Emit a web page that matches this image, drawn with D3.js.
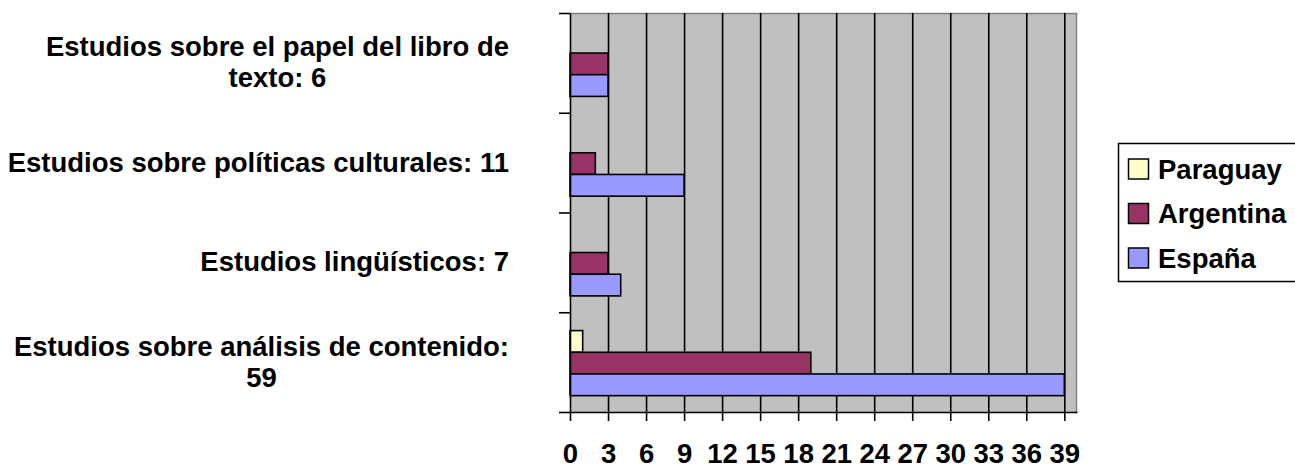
<!DOCTYPE html>
<html>
<head>
<meta charset="utf-8">
<script src="https://cdnjs.cloudflare.com/ajax/libs/d3/7.8.5/d3.min.js"></script>
<style>
  html, body { margin: 0; padding: 0; background: #fff; }
  svg text { font-family: "Liberation Sans", Arial, sans-serif; font-weight: bold; fill: #000; }
</style>
</head>
<body>
<svg id="chart" width="1295" height="473"></svg>
<script>
(function () {
  'use strict';

  // category labels, top to bottom (one entry per wrapped line)
  var categories = [
    ['Estudios sobre el papel del libro de', 'texto: 6'],
    ['Estudios sobre políticas culturales: 11'],
    ['Estudios lingüísticos: 7'],
    ['Estudios sobre análisis de contenido:', '59']
  ];
  var seriesNames = ['Paraguay', 'Argentina', 'España'];
  var paraguay = [0, 0, 0, 1];
  var argentina = [3, 2, 3, 19];
  var espana = [3, 9, 4, 39];
  var xTicks = [0, 3, 6, 9, 12, 15, 18, 21, 24, 27, 30, 33, 36, 39];
  var xMax = 40;

  var colors = ['#FFFFCC', '#993366', '#9999FF'];
  var seriesValues = [paraguay, argentina, espana];

  var svg = d3.select('#chart'),
      plot = {left: 570, right: 1077, top: 13, bottom: 412},
      fontSize = 27.5;

  var x = d3.scaleLinear()
      .domain([0, xMax])
      .range([plot.left, plot.right]);

  var catIdx = d3.range(categories.length);
  var y = d3.scaleBand()
      .domain(catIdx)
      .range([plot.top, plot.bottom])
      .padding(0);

  var ySeries = d3.scaleBand()
      .domain(d3.range(seriesNames.length))
      .range([0, y.bandwidth()])
      .paddingInner(0)
      .paddingOuter(0.8);

  // plot background
  svg.append('rect')
      .attr('x', plot.left)
      .attr('y', plot.top)
      .attr('width', plot.right - plot.left)
      .attr('height', plot.bottom - plot.top)
      .attr('fill', '#C0C0C0');

  // top + right border of plot area
  svg.append('path')
      .attr('d', 'M' + plot.left + ',' + (plot.top + 0.5) + 'H' + (plot.right - 0.5) + 'V' + plot.bottom)
      .attr('fill', 'none')
      .attr('stroke', '#808080')
      .attr('stroke-width', 1.5);

  // vertical gridlines
  var grid = svg.append('g')
      .attr('transform', 'translate(0,' + plot.bottom + ')')
      .call(d3.axisBottom(x)
        .tickValues(xTicks.slice(1))
        .tickSize(-(plot.bottom - plot.top))
        .tickSizeOuter(0)
        .tickFormat(''));
  grid.select('.domain').remove();
  grid.selectAll('line')
      .attr('stroke', '#000')
      .attr('stroke-width', 1.6);

  // bars (zero values are not drawn)
  seriesValues.forEach(function (values, s) {
    var rows = values
        .map(function (v, i) { return {value: v, cat: i}; })
        .filter(function (d) { return d.value > 0; });
    svg.append('g')
        .attr('class', 'series')
        .selectAll('rect')
        .data(rows)
        .enter()
        .append('rect')
        .attr('x', x(0))
        .attr('y', function (d) { return y(d.cat) + ySeries(s) + 1; })
        .attr('width', function (d) { return x(d.value) - x(0); })
        .attr('height', ySeries.bandwidth())
        .attr('fill', colors[s])
        .attr('stroke', '#000')
        .attr('stroke-width', 1.6);
  });

  // x axis
  var xAxis = svg.append('g')
      .attr('transform', 'translate(0,' + plot.bottom + ')')
      .call(d3.axisBottom(x)
        .tickValues(xTicks)
        .tickSize(9)
        .tickSizeOuter(0));
  xAxis.select('.domain')
      .attr('stroke', '#000')
      .attr('stroke-width', 1.6);
  xAxis.selectAll('line')
      .attr('stroke', '#000')
      .attr('stroke-width', 1.6);
  xAxis.selectAll('text')
      .attr('y', 51)
      .attr('dy', null)
      .style('font-size', fontSize + 'px');

  // y axis, ticks sit on the category boundaries
  var yEdges = d3.scaleLinear()
      .domain([0, categories.length])
      .range([plot.top, plot.bottom]);
  var yAxis = svg.append('g')
      .attr('transform', 'translate(' + plot.left + ',0)')
      .call(d3.axisLeft(yEdges)
        .ticks(categories.length)
        .tickSize(11)
        .tickSizeOuter(0)
        .tickFormat(''));
  yAxis.select('.domain')
      .attr('stroke', '#000')
      .attr('stroke-width', 1.6);
  yAxis.selectAll('line')
      .attr('stroke', '#000')
      .attr('stroke-width', 1.6);

  // category labels
  var labelRight = 509,
      lineHeight = 31;
  categories.forEach(function (lines, i) {
    var t = svg.append('text')
        .attr('text-anchor', 'middle')
        .style('font-size', fontSize + 'px');
    var cy = y(i) + y.bandwidth() / 2 - 1;
    var firstBase = cy - (lines.length - 1) * lineHeight / 2 + fontSize * 0.36;
    lines.forEach(function (line, k) {
      t.append('tspan')
          .attr('y', firstBase + k * lineHeight)
          .text(line);
    });
    var maxW = 0;
    t.selectAll('tspan').each(function () {
      maxW = Math.max(maxW, this.getComputedTextLength());
    });
    t.selectAll('tspan').attr('x', labelRight - maxW / 2);
  });

  // legend
  var legend = svg.append('g')
      .attr('class', 'legend');
  legend.append('rect')
      .attr('x', 1118.5)
      .attr('y', 143.5)
      .attr('width', 200)
      .attr('height', 138)
      .attr('fill', '#fff')
      .attr('stroke', '#000')
      .attr('stroke-width', 1.5);

  var items = legend.selectAll('g.item')
      .data(seriesNames)
      .enter()
      .append('g')
      .attr('class', 'item')
      .attr('transform', function (d, i) { return 'translate(1128,' + (169 + i * 44.5) + ')'; });
  items.append('rect')
      .attr('x', 0.5)
      .attr('y', -10)
      .attr('width', 20)
      .attr('height', 20)
      .attr('fill', function (d, i) { return colors[i]; })
      .attr('stroke', '#000')
      .attr('stroke-width', 1.5);
  items.append('text')
      .attr('x', 30)
      .attr('y', fontSize * 0.36)
      .style('font-size', fontSize + 'px')
      .text(function (d) { return d; });
})();
</script>
</body>
</html>
